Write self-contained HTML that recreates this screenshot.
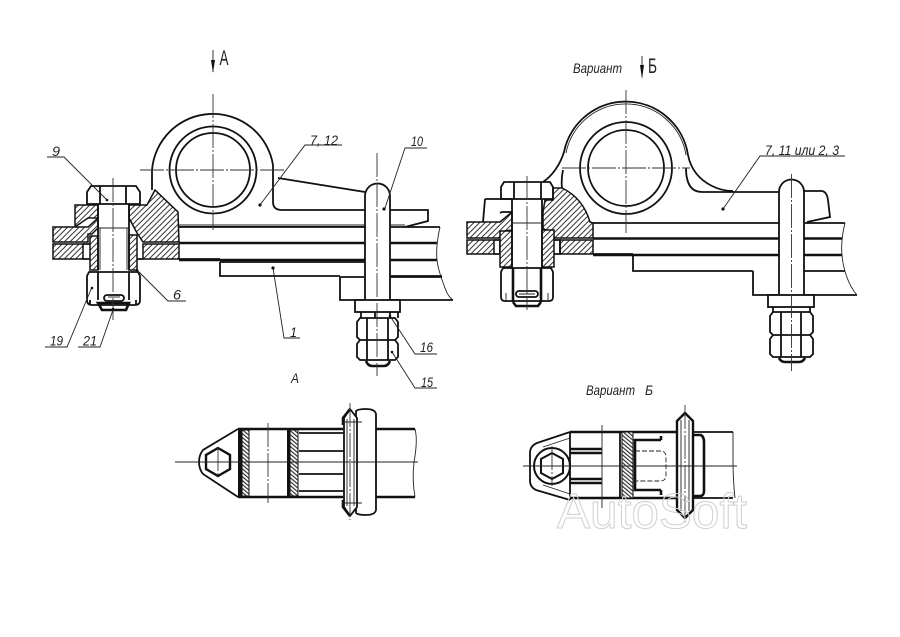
<!DOCTYPE html>
<html><head><meta charset="utf-8"><style>
html,body{margin:0;padding:0;background:#fff;width:900px;height:637px;overflow:hidden}
svg{display:block}
text{font-family:"Liberation Sans",sans-serif;fill:#222;stroke:none}
.l{font-style:italic;font-size:14px}
.m{fill:none;stroke:#111;stroke-width:1.8}
.k{fill:none;stroke:#111;stroke-width:2.6}
.t{fill:none;stroke:#222;stroke-width:.9}
.c{fill:none;stroke:#333;stroke-width:.9;stroke-dasharray:24 2 2 2}
.h{fill:url(#hat);stroke:#111;stroke-width:1.5}
.w{fill:#fff;stroke:#111;stroke-width:1.8}
</style></head><body>
<svg width="900" height="637" viewBox="0 0 900 637" xmlns="http://www.w3.org/2000/svg">
<defs>
<pattern id="hat" width="4" height="4" patternUnits="userSpaceOnUse" patternTransform="rotate(45)"><rect width="4" height="4" fill="#fff"/><rect width="1" height="4" fill="#333"/></pattern>
<pattern id="hat2" width="3" height="3" patternUnits="userSpaceOnUse" patternTransform="rotate(-50)"><rect width="3" height="3" fill="#fff"/><rect width="1.2" height="3" fill="#333"/></pattern>
</defs>
<rect width="900" height="637" fill="#fff"/>

<!-- LEFT VIEW -->
<g>
<path class="t" d="M179 225H365M179 226.500H365M390 225H405"/>
<path class="m" d="M179 227H365M390 227H440"/>
<path class="k" d="M179 243H365M390 243H437M179 260H365M390 260H437"/>
<path class="m" d="M179 259H220M220 262H365M390 276H442M220 262V276H340M340 277V300H453"/>
<path class="t" d="M440 227C437 240 436 250 437 260C438 270 442 280 445 288C447 294 450 298 453 300"/>
<path class="m" d="M340 277H365M390 277H442"/>
<path class="m" d="M152 190V170A61 61 0 0 1 273 165V202Q273 210 282 210H365M278 178L365 192M390 210H428V221L405 227"/>
<circle class="m" cx="213" cy="170" r="43.500"/>
<circle class="m" cx="213" cy="170" r="37"/>
<path class="h" d="M75 205H98V218H88L75 227Z"/>
<path class="h" d="M53 227H88L98 218V228L92 234H88V242H53Z"/>
<path class="h" d="M53 244H83V259H53Z"/>
<path class="h" d="M90 236H98V270H90Z"/>
<path class="h" d="M129 205H147L155 190L178 212L179 242H143L137 233L129 218Z"/>
<path class="h" d="M143 244H179V259H143Z"/>
<path class="h" d="M129 235H137V270H129Z"/>
<path class="m" d="M83 244H90M83 259H90M137 259H143"/>
<path class="m" d="M87 204V192L91 186H136L140 192V204ZM100 186V204M126 186V204"/>
<path class="m" d="M98 204V270M129 204V270"/>
<path class="t" d="M100 228V270M127 228V270M98 228H129"/>
<path class="m" d="M89 272H138L140 276V300Q140 305 135 305H92Q87 305 87 300V276ZM98 272V300M129 272V300M90 300V304M136 300V304"/>
<path class="k" d="M98 303H129L126 310H102Z"/>
<rect class="m" x="104" y="295" width="20" height="6" rx="3"/>
<path class="t" d="M108 297H120"/>
<path class="w" d="M365 300V196A12.500 12.500 0 0 1 390 196V300"/>
<rect class="w" x="355" y="300" width="45" height="12"/>
<path class="m" d="M361 312V318M398 312V318M375 312V318M390 312V318"/>
<path class="w" d="M360 318H395L398 322V337L395 340H360L357 337V322ZM360 340H395L398 344V357L395 360H360L357 357V344Z"/>
<path class="m" d="M367 318V360M388 318V360"/>
<path class="k" d="M366 361Q368 366 372 366H384Q388 366 390 361"/>
<path class="c" d="M213 94V230M140 170H286M377 153V376M113 178V320"/>
<path class="t" d="M213 50V72"/><path d="M211 60L213 73L215 60Z" fill="#111"/>
<text x="219.500" y="65" font-size="21" textLength="9" lengthAdjust="spacingAndGlyphs">А</text>
<path class="t" d="M47 157H64L107 200M45 347H67L92 287M78 347H100L113 310M186 301H168L137 270M342 145H305L260 205M427 148H405L385 208M300 338H284L273 268M437 354H415L390 316M437 388H415L392 352"/>
<g fill="#111"><circle cx="107" cy="200" r="1.300"/><circle cx="92" cy="288" r="1.300"/><circle cx="113" cy="309" r="1.300"/><circle cx="137" cy="270" r="1.300"/><circle cx="260" cy="205" r="1.600"/><circle cx="384" cy="209" r="1.600"/><circle cx="273" cy="268" r="1.600"/><circle cx="390" cy="316" r="1.300"/><circle cx="392" cy="352" r="1.300"/></g>
<text class="l" x="52" y="156" textLength="8" lengthAdjust="spacingAndGlyphs">9</text>
<text class="l" x="50" y="345.500" textLength="13" lengthAdjust="spacingAndGlyphs">19</text>
<text class="l" x="83" y="345.500" textLength="14" lengthAdjust="spacingAndGlyphs">21</text>
<text class="l" x="173" y="299.500" textLength="8" lengthAdjust="spacingAndGlyphs">6</text>
<text class="l" x="310" y="145" textLength="28" lengthAdjust="spacingAndGlyphs">7, 12</text>
<text class="l" x="411" y="146" textLength="12" lengthAdjust="spacingAndGlyphs">10</text>
<text class="l" x="290" y="337" textLength="7" lengthAdjust="spacingAndGlyphs">1</text>
<text class="l" x="420" y="352" textLength="13" lengthAdjust="spacingAndGlyphs">16</text>
<text class="l" x="421" y="387" textLength="12" lengthAdjust="spacingAndGlyphs">15</text>
</g>

<!-- RIGHT VIEW -->
<g>
<path class="m" d="M593 223H779M804 223H845"/>
<path class="k" d="M593 238.500H779M804 238.500H842M593 255H779M804 255H842"/>
<path class="m" d="M633 256V271H753M753 271V295H857M804 271H845M593 254H633"/>
<path class="t" d="M845 223C842 235 841 245 842 255C843 268 848 285 857 295"/>
<path class="m" d="M543 182C552 176 560 165 564 152A63 63 0 0 1 688 155C691 170 700 180 712 186C720 190 728 191 733 191"/>
<path class="t" d="M566 153A61 61 0 0 1 686 155"/>
<path class="m" d="M563 170Q561 180 562 188M686 168Q686 192 702 192H779M804 191H822Q827 192 828 200L830 217L807 222"/>
<circle class="m" cx="626" cy="168" r="46"/>
<circle class="m" cx="626" cy="168" r="38"/>
<path class="m" d="M485 199L483 222M485 199H512"/>
<path class="h" d="M467 222H500L512 212V230L505 231L500 238H467Z"/>
<path class="h" d="M467 240H494V254H467Z"/>
<path class="m" d="M494 240H500V254H494"/>
<path class="m" d="M500 213L502 212H512"/>
<path class="h" d="M500 231H512V267H500Z"/>
<path class="h" d="M545 200H553V188L562 188Q583 198 590 222L593 223V238H555L543 228V212Z"/>
<path class="h" d="M560 240H593V254H560Z"/>
<path class="h" d="M542 230H554V267H542Z"/>
<path class="m" d="M554 240H560V254H554"/>
<path class="m" d="M501 199V187L504 182H550L553 187V199ZM514 182V199M541 182V199"/>
<path class="m" d="M512 199V268M542 199V268"/>
<path class="t" d="M512 223H542"/>
<path class="m" d="M503 268H551L553 272V297Q553 301 549 301H505Q501 301 501 297V272Z"/>
<path class="k" d="M513 268V302M541 268V302"/>
<path class="k" d="M513 302L516 306H538L541 302"/>
<rect class="m" x="516" y="291" width="22" height="6" rx="3"/>
<path class="t" d="M506 293V300M548 293V300M519 294H535"/>
<path class="w" d="M779 295V192A12.500 12.500 0 0 1 804 192V295"/>
<rect class="w" x="768" y="295" width="46" height="12"/>
<path class="m" d="M773 307V312M810 307V312"/>
<path class="w" d="M773 312H810L813 316V332L810 335H773L770 332V316ZM773 335H810L813 339V354L810 357H773L770 354V339Z"/>
<path class="m" d="M781 312V357M801 312V357"/>
<path class="k" d="M779 358Q781 362 785 362H799Q803 362 805 358"/>
<path class="c" d="M626 90V233M562 168H690M791.500 174V371M527 176V310"/>
<path class="t" d="M642 56V77"/><path d="M640 65L642 79L644 65Z" fill="#111"/>
<text x="648" y="73" font-size="21" textLength="9" lengthAdjust="spacingAndGlyphs">Б</text>
<text class="l" x="573" y="73" textLength="49" lengthAdjust="spacingAndGlyphs">Вариант</text>
<path class="t" d="M845 156H760L723 209"/><circle cx="723" cy="209" r="1.600" fill="#111"/>
<text class="l" x="765" y="155" textLength="74" lengthAdjust="spacingAndGlyphs">7, 11 или 2, 3</text>
</g>

<!-- VIEW A -->
<g>
<text class="l" x="291" y="383" textLength="8" lengthAdjust="spacingAndGlyphs">А</text>
<path class="m" d="M238 429L203 450Q199 455 199 462Q199 469 203 474L238 497"/>
<path class="k" d="M238 429H343M238 497H343M376 429H415M376 497H415"/>
<rect x="238" y="429" width="4" height="68" fill="#111"/>
<rect x="242" y="430" width="7" height="66" fill="url(#hat2)" stroke="#111"/>
<rect x="287" y="430" width="3" height="66" fill="#111"/>
<rect x="290" y="430" width="8" height="66" fill="url(#hat2)" stroke="#111"/>
<path d="M218 448L230 455V469L218 476L206 469V455Z" style="fill:none;stroke:#111;stroke-width:2.400"/>
<path class="m" d="M299 433H344M299 451H344M299 474H344M299 491H344"/>
<path class="t" d="M415 429Q418 440 414 462Q412 480 415 497"/>
<path class="w" d="M356 411Q358 409 366 409Q375 409 376 414V510Q375 515 366 515Q358 515 356 513Z"/>
<path class="w" d="M344 418L350 409L357 418V507L350 516L344 507Z"/>
<path class="k" d="M343 425V418L350 409M343 500V507L350 516"/>
<path class="t" d="M347 419V506M354 419V506M342 422H362M342 503H362"/>
<path class="t" d="M175 462H418"/><path class="c" d="M268 423V503M218 447V477M350 403V520"/>
</g>

<!-- VIEW Б -->
<g>
<text class="l" x="586" y="395" textLength="49" lengthAdjust="spacingAndGlyphs">Вариант</text>
<text class="l" x="645" y="395" textLength="8" lengthAdjust="spacingAndGlyphs">Б</text>
<path class="m" d="M570 432L537 443Q530 446 530 453V481Q530 487 536 490L570 500"/>
<path class="t" d="M570 438L543 447M570 494L543 485"/>
<path class="k" d="M570 432H677M570 498H677"/>
<path class="m" d="M693 432H733M693 498H733"/>
<path class="t" d="M733 432V460Q733 480 735 498"/>
<path class="m" d="M570 432V500M620 432V498"/>
<circle class="m" cx="552" cy="466" r="18" style="stroke-width:2"/>
<path d="M552 453L563 459V473L552 479L541 473V459Z" style="fill:none;stroke:#111;stroke-width:2"/>
<path class="k" d="M570 449H602M570 453H602M570 479H602M570 483H602"/>
<rect x="622" y="432" width="11" height="66" fill="url(#hat2)" stroke="#111"/>
<path class="k" d="M635 466V440H661M661 436V440M635 466V490H661M661 490V495"/>
<path class="t" style="stroke-dasharray:5 2" d="M635 451H660Q666 451 666 457V475Q666 481 660 481H635"/>
<path class="k" d="M693 435H701Q704 437 704 442V491Q704 495 701 496H693"/>
<path class="w" d="M677 421L685 413L693 421V510L685 518L677 510Z" style="stroke-width:2.400"/>
<path class="t" d="M681 420V511M689 420V511"/>
<path class="t" d="M523 466H737M602 425V508"/><path class="c" d="M552 446V486M685 405V522"/>
</g>

<text x="557" y="528" font-size="49" textLength="190" lengthAdjust="spacingAndGlyphs" style="fill:none;stroke:#cfcfcf;stroke-width:1">AutoSoft</text>
</svg>
</body></html>
